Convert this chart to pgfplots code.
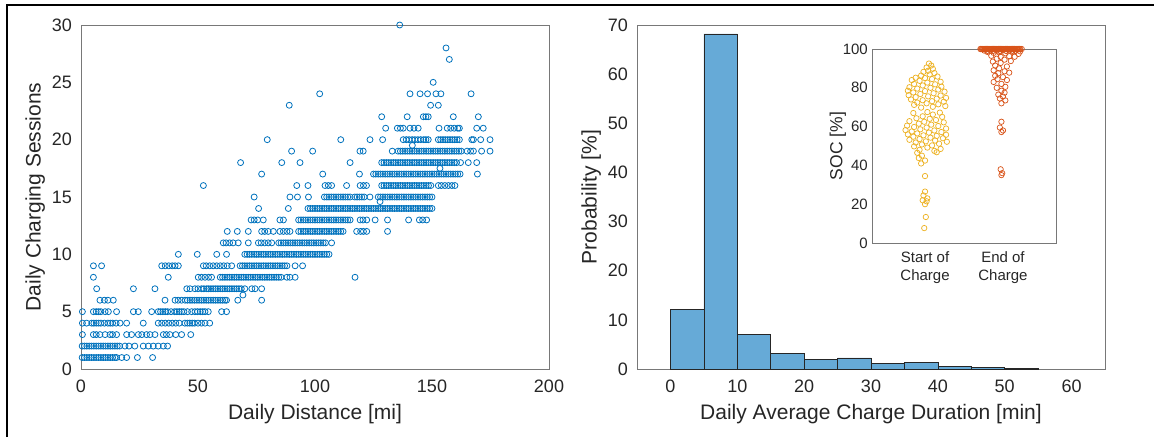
\documentclass[border=0pt]{standalone}
\usepackage{pgfplots}
\pgfplotsset{compat=1.18}
\usepackage{fontspec}
\setmainfont{Liberation Sans}
\definecolor{mblue}{RGB}{0,114,189}
\definecolor{hfill}{RGB}{102,170,215}
\definecolor{myel}{RGB}{237,177,32}
\definecolor{morg}{RGB}{217,83,25}
\definecolor{axgray}{RGB}{120,120,120}
\definecolor{txt}{RGB}{38,38,38}
\pgfplotsset{
 mstyle/.style={
  scale only axis, anchor=south west,
  axis line style={axgray, line width=0.8pt},
  major tick length=0pt,
  tick label style={txt, font=\fontsize{18}{21}\selectfont},
  label style={txt, font=\fontsize{21}{25}\selectfont},
  /pgf/number format/assume math mode=true,
  xticklabel style={anchor=north, inner sep=0pt, yshift=-11pt},
  yticklabel style={anchor=east, inner sep=0pt, xshift=-9pt},
  xlabel style={at={(axis description cs:0.5,-0.131)}, anchor=center},
  ylabel style={at={(axis description cs:-0.098,0.5)}, anchor=center},
 }
}
\begin{document}
\begin{tikzpicture}
\path[use as bounding box] (0pt,0pt) rectangle (1154pt,437pt);
\draw[line width=2pt] (6.5pt,0pt) -- (6.5pt,432pt) -- (1154pt,432pt);
\begin{axis}[mstyle, at={(81pt,68pt)}, width=468pt, height=344pt,
  xmin=0, xmax=200, ymin=0, ymax=30, xtick={0,50,...,200}, ytick={0,5,...,30},
  xlabel={Daily Distance [mi]}, ylabel={Daily Charging Sessions}, clip=false]
\addplot[only marks, mark=o, mark size=3pt, mark options={line width=0.8pt}, color=mblue] coordinates {
(0.5,1)(1.5,1)(2.5,1)(3.5,1)(4.5,1)(5.5,1)(6.5,1)(7.5,1)(8.5,1)(9.5,1)(10.5,1)(11.5,1)(12.5,1)(13.5,1)(14.5,1)(15.2,1)(17.4,1)(19.5,1)(24.1,1)(30.6,1)
(0.5,2)(1.5,2)(2.5,2)(3.5,2)(4.5,2)(5.5,2)(6.5,2)(7.5,2)(8.5,2)(9.5,2)(10.5,2)(11.5,2)(12.5,2)(13.5,2)(14.5,2)(15.5,2)(16.5,2)(18.8,2)(20.5,2)(23,2)(26.6,2)(28.8,2)(30.9,2)(33,2)(35.2,2)(37,2)
(0.6,3)(5.3,3)(6.5,3)(8.1,3)(10.3,3)(12.4,3)(13.5,3)(15.2,3)(19.5,3)(21.6,3)(24.5,3)(26,3)(28,3)(29.5,3)(31.6,3)(35.2,3)(36.5,3)(38,3)(40.5,3)(43,3)(46.9,3)
(0.6,4)(2.4,4)(4.6,4)(5.5,4)(6.5,4)(7.5,4)(8.5,4)(10,4)(11.5,4)(12.5,4)(13.5,4)(15,4)(16.7,4)(19.5,4)(26.6,4)(33,4)(34.5,4)(36,4)(37.5,4)(39,4)(40.5,4)(42,4)(44.4,4)(45.5,4)(46.5,4)(47.5,4)(48.5,4)(50,4)(51.5,4)(53,4)(55,4)
(0.6,5)(5.3,5)(6.5,5)(7.5,5)(8.5,5)(10.3,5)(11.7,5)(15.2,5)(22.4,5)(24.5,5)(30.2,5)(33,5)(34,5)(35,5)(36,5)(37,5)(38.5,5)(40,5)(41,5)(42,5)(43,5)(44,5)(45.5,5)(47.3,5)(48.7,5)(49.8,5)(51,5)(52,5)(53,5)(54.4,5)(60.1,5)(62.2,5)
(8.1,6)(10,6)(11.5,6)(13.8,6)(35.9,6)(40.2,6)(41.5,6)(43,6)(44.5,6)(45.5,6)(46.6,6)(47.5,6)(48.5,6)(49.5,6)(50.5,6)(51.5,6)(52.5,6)(53.5,6)(54.5,6)(55.5,6)(56.5,6)(57.5,6)(58.5,6)(59.5,6)(60.5,6)(61.5,6)(62.2,6)(67,6)(77.2,6)
(6.7,7)(22.4,7)(31.6,7)(45.2,7)(46.6,7)(48.7,7)(50,7)(51.5,7)(52.5,7)(53.7,7)(54.5,7)(55.5,7)(56.5,7)(57.5,7)(58.5,7)(59.5,7)(60.5,7)(61.5,7)(62.5,7)(63.5,7)(64.5,7)(65.5,7)(66.5,7)(67.5,7)(68.5,7)(70,7)(73,7)(74.4,7)(77.2,7)(69.2,6.45)
(5.3,8)(37.3,8)(50.1,8)(51.5,8)(53,8)(54.5,8)(55.8,8)(59.5,8)(60.5,8)(61.5,8)(62.5,8)(63.5,8)(64.5,8)(65.5,8)(66.5,8)(67.5,8)(68.5,8)(69.5,8)(70.5,8)(71.5,8)(72.5,8)(73.5,8)(74.5,8)(75.5,8)(76.5,8)(77.5,8)(78.5,8)(79.5,8)(80.5,8)(81.5,8)(82.5,8)(83.5,8)(84.5,8)(85.5,8)(88,8)(89.3,8)(91.5,8)(117.1,8)
(5.3,9)(8.8,9)(34.5,9)(36,9)(37.5,9)(39,9)(40.2,9)(41.6,9)(52.3,9)(53.5,9)(55,9)(56.5,9)(58,9)(59.5,9)(61,9)(62.5,9)(64.4,9)(68,9)(69,9)(70,9)(71,9)(72,9)(73,9)(74,9)(75,9)(76,9)(77,9)(78,9)(79,9)(80,9)(81,9)(82,9)(83,9)(84,9)(85,9)(86,9)(87,9)(88,9)(91.5,9)(94.7,9)
(41.6,10)(49.7,10)(58,10)(62.2,10)(70,10)(71,10)(72,10)(73,10)(74,10)(75,10)(76,10)(77,10)(78,10)(79,10)(80,10)(81,10)(82,10)(83,10)(84,10)(85,10)(86,10)(87,10)(88,10)(89,10)(90,10)(91,10)(92,10)(93,10)(94,10)(95,10)(96,10)(97,10)(98,10)(99,10)(100,10)(101,10)(102,10)(103,10)(104,10)(105,10)(106,10)
(60.8,11)(62,11)(63.5,11)(65,11)(67.2,11)(71.5,11)(75.8,11)(77,11)(78.5,11)(80,11)(81.5,11)(84.5,11)(85.5,11)(86.5,11)(87.5,11)(88.5,11)(89.5,11)(90.5,11)(91.5,11)(92.5,11)(93.5,11)(94.5,11)(95.5,11)(96.5,11)(97.5,11)(98.5,11)(99.5,11)(100.5,11)(101.5,11)(102.5,11)(103.5,11)(104.5,11)(107.1,11)
(62.5,12)(66.8,12)(71.5,12)(77.2,12)(78.5,12)(80,12)(82.2,12)(85,12)(86.5,12)(88,12)(89.3,12)(93,12)(94,12)(95,12)(96,12)(97,12)(98,12)(99,12)(100,12)(101,12)(102,12)(103,12)(104,12)(105,12)(106,12)(107,12)(108,12)(109,12)(110,12)(111,12)(112,12)(117.8,12)(119.5,12)(120.7,12)(122.1,12)(131,12)
(72.7,13)(74,13)(75.5,13)(77.9,13)(85,13)(86.5,13)(93,13)(94,13)(95,13)(96,13)(97,13)(98,13)(99,13)(100,13)(101,13)(102,13)(103,13)(104,13)(105,13)(106,13)(107,13)(108,13)(109,13)(110,13)(111,13)(112,13)(113,13)(114,13)(115,13)(119.3,13)(120.5,13)(122.1,13)(125.7,13)(131,13)(140,13)(144.6,13)(146,13)(147.7,13)
(75.9,14)(88.6,14)(97,14)(98,14)(99,14)(100,14)(101,14)(102,14)(103,14)(104,14)(105,14)(106,14)(107,14)(108,14)(109,14)(110,14)(111,14)(112,14)(113,14)(114,14)(115,14)(116,14)(117,14)(118,14)(119,14)(120,14)(121,14)(122,14)(123,14)(124,14)(125,14)(126,14)(127,14)(128,14)(129,14)(130,14)(131,14)(132,14)(133,14)(134,14)(135,14)(136,14)(137,14)(138,14)(139,14)(140,14)(141,14)(142,14)(143,14)(144,14)(145,14)(146,14)(147,14)(148,14)(149,14)(150,14)
(74,15)(89.3,15)(92.5,15)(97.2,15)(104,15)(105,15)(106,15)(107,15)(108,15)(109,15)(110,15)(111,15)(112,15)(113,15)(114,15)(115,15)(117,15)(118,15)(119,15)(120,15)(121,15)(123.5,15)(127,15)(128,15)(129,15)(130,15)(131,15)(132,15)(133,15)(134,15)(135,15)(136,15)(137,15)(138,15)(139,15)(140,15)(141,15)(142,15)(143,15)(144,15)(145,15)(146,15)(147,15)(148,15)(149,15)(150,15)(127.8,14.6)
(52.3,16)(92.2,16)(97,16)(104.3,16)(105.7,16)(107.1,16)(113.5,16)(119.3,16)(120.7,16)(122,16)(128.5,16)(129.5,16)(130.5,16)(131.5,16)(132.5,16)(133.5,16)(134.5,16)(135.5,16)(136.5,16)(137.5,16)(138.5,16)(139.5,16)(140.5,16)(141.5,16)(142.5,16)(143.5,16)(144.5,16)(145.5,16)(146.5,16)(147.5,16)(148.5,16)(149.5,16)(152.7,16)(154,16)(155.5,16)(157,16)(158.5,16)(159.8,16)
(77.2,17)(103.3,17)(119,17)(125,17)(126,17)(127,17)(128,17)(129,17)(130,17)(131,17)(132,17)(133,17)(134,17)(135,17)(136,17)(137,17)(138,17)(139,17)(140,17)(141,17)(142,17)(143,17)(144,17)(145,17)(146,17)(147,17)(148,17)(149,17)(150,17)(151,17)(152,17)(153,17)(154,17)(155,17)(156,17)(157,17)(158,17)(159,17)(160,17)(161,17)(162,17)(169.4,17)
(68.2,18)(85.8,18)(93.6,18)(115,18)(128.5,18)(129.5,18)(130.5,18)(131.5,18)(132.5,18)(133.5,18)(134.5,18)(135.5,18)(136.5,18)(137.5,18)(138.5,18)(139.5,18)(140.5,18)(141.5,18)(142.5,18)(143.5,18)(144.5,18)(145.5,18)(146.5,18)(147.5,18)(148.5,18)(149.5,18)(150.5,18)(151.5,18)(152.5,18)(153.5,18)(154.5,18)(155.5,18)(156.5,18)(157.5,18)(158.5,18)(159.5,18)(160.5,18)(162.2,18)(165.5,18)(169.1,18)(153.4,17.5)
(90,19)(99,19)(119.2,19)(120.6,19)(133,19)(135.5,19)(136.5,19)(137.5,19)(138.5,19)(139.5,19)(140.5,19)(141.5,19)(142.5,19)(143.5,19)(144.5,19)(145.5,19)(146.5,19)(147.5,19)(148.5,19)(149.5,19)(150.5,19)(151.5,19)(152.5,19)(153.5,19)(154.5,19)(155.5,19)(156.5,19)(157.5,19)(158.5,19)(159.5,19)(160.5,19)(161.5,19)(162.5,19)(165,19)(166.5,19)(167.7,19)(171.2,19)(174.8,19)
(79.6,20)(111,20)(123.5,20)(128.9,20)(137.7,20)(139,20)(140.2,20)(141.5,20)(142.7,20)(144,20)(145.2,20)(146.5,20)(147.4,20)(148.4,20)(152.7,20)(153.7,20)(154.7,20)(155.7,20)(156.7,20)(157.7,20)(158.7,20)(159.7,20)(160.7,20)(161.7,20)(167,20)(167.7,20)(170.8,20)(174.8,20)(141.6,19.5)
(130.2,21)(135.2,21)(136.5,21)(137.7,21)(140.6,21)(142.3,21)(144.1,21)(153,21)(156.5,21)(158,21)(159.5,21)(161,21)(161.7,21)(169.1,21)(171.9,21)
(128.5,22)(139.4,22)(146.3,22)(147.4,22)(148.4,22)(159.1,22)(169.8,22)
(89,23)(149.4,23)(152.7,23)
(102,24)(140.6,24)(144.9,24)(148.1,24)(151.7,24)(153.8,24)(166.7,24)
(150.5,25)(157.4,27)(156,28)(136.2,30)
};
\end{axis}
\begin{axis}[mstyle, at={(637pt,68pt)}, width=468pt, height=344pt,
  xmin=-5, xmax=65, ymin=0, ymax=70, xtick={0,10,...,60}, ytick={0,10,...,70},
  xlabel={Daily Average Charge Duration [min]}, ylabel={Probability [\%]}]
\addplot[ybar interval, fill=hfill, draw=black!85, line width=0.6pt] coordinates {
(0,12.2)(5,68.2)(10,7.0)(15,3.1)(20,1.9)(25,2.25)(30,1.1)(35,1.35)(40,0.6)(45,0.35)(50,0.15)(55,0)};
\end{axis}
\begin{axis}[scale only axis, anchor=south west, at={(872pt,194pt)}, width=184pt, height=194pt,
  xmin=0.32, xmax=2.68, ymin=0, ymax=100, ytick={0,20,...,100}, xtick={1,2},
  xticklabels={{Start of\\Charge},{End of\\Charge}},
  axis background/.style={fill=white}, clip=false,
  axis line style={axgray, line width=0.8pt}, major tick length=0pt,
  tick label style={txt, font=\fontsize{15}{18.5}\selectfont},
  /pgf/number format/assume math mode=true,
  xticklabel style={anchor=north, inner sep=0pt, yshift=-8pt, align=center},
  yticklabel style={anchor=east, inner sep=0pt, xshift=-4pt},
  ylabel={SOC [\%]},
  ylabel style={txt, font=\fontsize{17.5}{20}\selectfont, at={(axis description cs:-0.185,0.5)}, anchor=center}]
\addplot[only marks, mark=o, mark size=2.7pt, mark options={line width=0.7pt}, color=myel] coordinates {
(1.05,92.5)(1.08,91.5)(1.02,90.5)(1.10,89.8)(1.04,88.8)(0.98,88.2)(1.12,87.6)(1.06,86.9)
(0.95,86.3)(1.16,85.8)(0.88,85.2)(1.00,85.0)(1.09,84.5)(0.83,84.0)(0.93,83.6)(1.20,83.1)(1.03,82.7)(0.86,82.0)(1.13,81.8)(0.97,81.2)(1.21,80.6)(0.80,80.3)(1.07,80.0)(0.90,79.6)(1.17,79.1)(0.78,78.5)(1.00,78.3)(1.25,78.0)(0.85,77.6)(1.11,77.2)(0.94,76.8)(0.79,76.2)(1.20,76.0)(1.04,75.6)(0.88,75.2)(1.27,74.8)(1.15,74.4)(0.82,74.0)(0.97,73.6)(1.09,73.1)(1.24,72.8)(0.90,72.4)(1.02,72.0)(1.17,71.5)(0.86,71.2)(1.26,70.6)(1.10,70.2)(0.95,69.8)
(0.85,67.0)(1.03,67.5)(1.19,67.2)(1.10,66.2)(0.97,65.3)(1.22,65.0)(0.89,64.3)(1.06,64.0)(1.14,63.4)(0.80,62.8)(0.99,62.5)(1.24,62.2)(0.92,61.5)(1.08,61.0)(0.77,60.5)(1.17,60.3)(0.86,59.8)(1.02,59.5)(1.27,59.0)(0.94,58.6)(0.75,58.2)(1.12,58.0)(0.83,57.5)(1.21,57.2)(1.05,56.9)(0.90,56.5)(0.78,56.0)(1.27,55.8)(0.98,55.5)(1.15,55.2)(0.85,54.8)(1.07,54.3)(1.23,54.0)(0.93,53.6)(0.80,53.2)(1.13,52.8)(1.01,52.4)(1.28,52.2)(0.88,51.8)(1.18,51.2)(0.96,50.8)(1.09,50.3)(0.86,49.8)(1.20,48.5)(1.03,49.2)(0.93,48.0)(1.12,47.5)(0.90,46.5)(1.15,46.8)(0.96,45.0)(0.92,43.8)(1.00,42.5)(0.95,41.0)
(1.00,34.5)(1.00,26.5)(0.98,24.5)(1.03,23.0)(0.97,22.0)(1.02,21.5)(1.00,20.0)(1.01,13.4)(0.99,7.7)
};
\addplot[only marks, mark=o, mark size=2.7pt, mark options={line width=0.7pt}, color=morg] coordinates {
(1.71,100)(1.72,100)(1.73,100)(1.74,100)(1.75,100)(1.76,100)(1.77,100)(1.78,100)(1.79,100)(1.80,100)(1.81,100)(1.82,100)(1.83,100)(1.84,100)(1.85,100)(1.86,100)(1.87,100)(1.88,100)(1.89,100)(1.90,100)(1.91,100)(1.92,100)(1.93,100)(1.94,100)(1.95,100)(1.96,100)(1.97,100)(1.98,100)(1.99,100)(2.00,100)(2.01,100)(2.02,100)(2.03,100)(2.04,100)(2.05,100)(2.06,100)(2.07,100)(2.08,100)(2.09,100)(2.10,100)(2.11,100)(2.12,100)(2.13,100)(2.14,100)(2.15,100)(2.16,100)(2.17,100)(2.18,100)(2.19,100)(2.20,100)(2.21,100)(2.22,100)(2.24,100)
(1.76,99.2)(1.80,99.0)(1.84,99.3)(1.88,99.1)(1.92,99.1)(1.96,99.0)(2.00,99.4)(2.04,99.0)(2.08,99.2)(2.12,99.1)(2.16,99.0)(2.22,98.8)
(1.80,98.5)(1.88,98.0)(1.95,98.3)(2.03,97.8)(2.12,98.6)(2.20,97.5)(1.85,96.5)(1.97,96.0)(2.08,96.3)(2.15,96.0)(1.92,95.0)(2.02,94.5)(1.87,93.5)(2.10,93.8)(1.97,92.8)(1.90,91.5)(2.05,91.0)(1.95,90.0)(1.88,89.0)(2.02,88.5)(1.94,87.5)(2.08,87.8)(1.90,86.2)(2.00,85.5)(1.93,84.5)(2.05,84.0)(1.88,83.0)(1.98,82.0)(2.03,80.5)(1.92,80.0)(1.98,78.5)(2.02,77.5)(1.94,76.5)(2.00,75.5)(1.96,74.5)(2.03,73.5)(1.98,72.0)
(1.98,62.5)(1.96,59.5)(2.00,58.0)(1.98,57.2)(1.97,38.0)(1.99,36.0)(1.98,35.0)
};
\end{axis}
\end{tikzpicture}
\end{document}
